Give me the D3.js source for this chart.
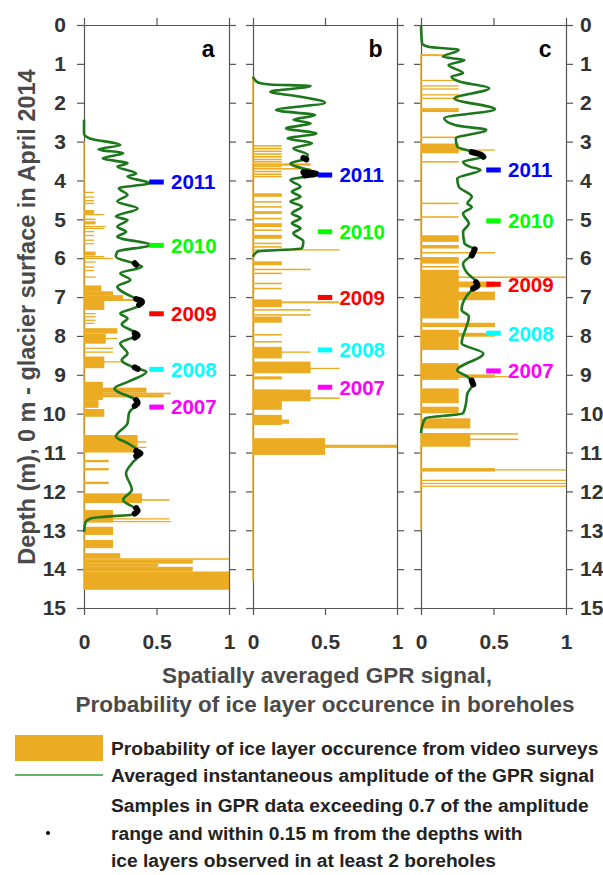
<!DOCTYPE html>
<html>
<head>
<meta charset="utf-8">
<script src="https://cdn.jsdelivr.net/npm/d3@7"></script>
<style>
body { margin: 0; background: #fff; }
svg text { font-family: "Liberation Sans", Arial, Helvetica, sans-serif; font-weight: bold; }
</style>
</head>
<body>
<div id="chart-area"></div>
<script>

// Tick values
var depthTicks = [0, 1, 2, 3, 4, 5, 6, 7, 8, 9, 10, 11, 12, 13, 14, 15];
var valueTicks = [0, 0.5, 1];

// Year markers
var yearLabels = ["2011", "2010", "2009", "2008", "2007"];
var yearColors = ["#0000ff", "#00ff00", "#ff0000", "#00ffff", "#ff00ff"];
var yearDepthA = [4.04, 5.67, 7.43, 8.86, 9.83];
var yearDepthB = [3.86, 5.32, 7.01, 8.36, 9.32];
var yearDepthC = [3.73, 5.04, 6.67, 7.93, 8.90];

// Averaged GPR amplitude: [depth, value]
var gprA = [[2.44,0],[2.80,0],[2.92,0.04],[3.09,0.25],[3.2,0.1],[3.3,0.27],[3.43,0.13],[3.56,0.3],[3.64,0.23],
	[3.82,0.36],[3.9,0.3],[4.07,0.45],[4.2,0.24],[4.37,0.3],[4.54,0.23],[4.72,0.37],[4.93,0.22],[5.02,0.3],
	[5.19,0.23],[5.32,0.29],[5.45,0.23],[5.66,0.46],[5.83,0.23],[5.96,0.22],[6.15,0.36],[6.22,0.4],[6.39,0.25],
	[6.56,0.32],[6.73,0.23],[7.07,0.37],[7.16,0.41],[7.29,0.34],[7.42,0.25],[7.55,0.3],[7.7,0.26],[7.97,0.37],
	[8.19,0.25],[8.45,0.3],[8.62,0.26],[8.83,0.36],[8.92,0.43],[9.17,0.31],[9.35,0.21],[9.7,0.37],[9.99,0.31],
	[10.25,0.3],[10.59,0.22],[10.76,0.3],[11.02,0.39],[11.28,0.33],[11.53,0.29],[11.96,0.33],[12.22,0.27],
	[12.5,0.37],[12.6,0.33],[12.65,0.15],[12.69,0.05],[12.8,0.01],[13.05,0]];
var gprB = [[1.33,0],[1.47,0.03],[1.53,0.12],[1.57,0.40],[1.72,0.12],[1.84,0.32],[2.0,0.5],[2.19,0.16],
	[2.32,0.43],[2.44,0.28],[2.53,0.4],[2.66,0.23],[2.79,0.44],[2.92,0.24],[3.04,0.41],[3.17,0.28],[3.34,0.38],
	[3.45,0.36],[3.56,0.26],[3.83,0.44],[3.99,0.26],[4.16,0.33],[4.29,0.27],[4.42,0.33],[4.54,0.26],[4.67,0.34],
	[4.85,0.27],[4.97,0.33],[5.1,0.27],[5.23,0.33],[5.36,0.28],[5.57,0.35],[5.75,0.34],[5.83,0.03],[5.96,0]];
var gprC = [[0,0],[0.47,0.007],[0.56,0.05],[0.64,0.26],[0.82,0.15],[0.9,0.3],[1.03,0.19],[1.24,0.29],[1.33,0.21],
	[1.46,0.27],[1.63,0.47],[1.89,0.23],[2.17,0.51],[2.4,0.16],[2.58,0.24],[2.7,0.45],[2.92,0.24],[3.13,0.25],
	[3.26,0.35],[3.39,0.43],[3.52,0.29],[3.65,0.34],[3.73,0.41],[3.95,0.25],[4.16,0.26],[4.42,0.35],[4.59,0.32],
	[4.68,0.35],[4.85,0.29],[5.11,0.33],[5.32,0.29],[5.62,0.3],[5.79,0.37],[5.92,0.35],[6.14,0.29],[6.39,0.32],
	[6.65,0.39],[6.78,0.36],[7.0,0.31],[7.33,0.28],[7.5,0.33],[8.19,0.28],[8.45,0.43],[8.88,0.25],[9.05,0.32],
	[9.22,0.36],[9.48,0.32],[9.74,0.31],[9.99,0.29],[10.12,0.03],[10.33,0.007],[10.5,0]];

// Samples exceeding 0.7 of amplitude range (black)
var blackA = [[[6.13,0.35],[6.17,0.36]], [[7.05,0.36],[7.12,0.4],[7.2,0.38]], [[7.93,0.35],[7.98,0.37],[8.04,0.35]],
	[[8.81,0.35],[8.85,0.37]], [[9.65,0.36],[9.72,0.37],[9.8,0.35]], [[10.96,0.36],[11.02,0.39],[11.09,0.36]],
	[[12.43,0.36],[12.5,0.37],[12.57,0.35]]];
var blackB = [[[3.42,0.35],[3.46,0.37]], [[3.79,0.35],[3.83,0.44],[3.87,0.36]]];
var blackC = [[[3.27,0.35],[3.33,0.41],[3.39,0.43]], [[5.77,0.37],[5.86,0.36],[5.93,0.35]],
	[[6.62,0.38],[6.7,0.39],[6.78,0.36]], [[9.15,0.35],[9.25,0.36]]];

// Probability of ice layers from video surveys: [top depth, bottom depth, probability]
var barsA = [[4.29,4.32,0.07],[4.41,4.44,0.07],[4.5,4.53,0.07],[4.57,4.61,0.07],[4.76,4.86,0.07],[4.86,4.89,0.14],
	[4.98,5.02,0.08],[5.05,5.13,0.08],[5.17,5.2,0.15],[5.22,5.25,0.14],[5.3,5.33,0.07],[5.4,5.43,0.07],
	[5.52,5.55,0.07],[5.61,5.64,0.07],[5.83,5.93,0.08],[5.94,5.98,0.14],[5.99,6.02,0.2],[6.08,6.11,0.08],
	[6.21,6.24,0.07],[6.3,6.33,0.07],[6.47,6.5,0.08],[6.7,6.85,0.12],[6.85,6.95,0.2],[6.95,7.05,0.27],
	[7.05,7.1,0.38],[7.1,7.33,0.14],[7.41,7.44,0.08],[7.49,7.52,0.08],[7.58,7.61,0.08],[7.66,7.69,0.07],
	[7.8,7.94,0.23],[7.94,8.2,0.15],[8.05,8.08,0.23],[8.3,8.33,0.2],[8.4,8.43,0.2],[8.53,8.83,0.14],
	[8.65,8.68,0.26],[9.18,9.65,0.13],[9.33,9.46,0.43],[9.46,9.5,0.6],[9.5,9.58,0.55],[9.65,9.85,0.1],
	[9.88,10.08,0.14],[10.55,11.0,0.37],[10.71,10.74,0.43],[10.85,10.88,0.43],[11.19,11.25,0.17],
	[11.4,11.46,0.17],[11.75,11.81,0.17],[12.05,12.3,0.4],[12.2,12.24,0.59],[12.48,12.8,0.2],
	[12.69,12.72,0.59],[12.76,12.79,0.6],[12.91,13.12,0.2],[13.25,13.46,0.2],[13.59,13.72,0.25],
	[13.72,13.76,1.0],[13.76,13.86,0.75],[13.86,13.94,0.51],[13.94,14.06,0.75],[14.06,14.53,1.0]];
var barsB = [[3.09,3.13,0.2],[3.16,3.2,0.2],[3.23,3.27,0.2],[3.3,3.34,0.2],[3.37,3.41,0.2],[3.44,3.48,0.2],
	[3.5,3.54,0.2],[3.56,3.62,0.4],[3.62,3.66,0.2],[3.68,3.72,0.4],[3.75,3.79,0.2],[3.82,3.86,0.2],
	[3.88,3.92,0.2],[4.33,4.42,0.2],[4.53,4.57,0.2],[4.66,4.7,0.2],[4.79,4.86,0.2],[4.96,5.0,0.2],
	[5.1,5.2,0.2],[5.26,5.3,0.2],[5.4,5.5,0.2],[5.6,5.64,0.2],[5.69,5.73,0.2],[5.77,5.8,0.6],
	[6.08,6.18,0.2],[6.27,6.31,0.4],[6.37,6.41,0.2],[6.63,6.67,0.2],[6.76,6.8,0.2],[7.06,7.26,0.2],
	[7.11,7.16,0.6],[7.31,7.35,0.4],[7.44,7.48,0.4],[7.5,7.66,0.2],[7.95,7.99,0.2],[8.13,8.17,0.2],
	[8.28,8.58,0.2],[8.4,8.43,0.4],[8.66,8.96,0.4],[8.82,8.85,0.6],[9.04,9.12,0.2],[9.38,9.9,0.2],
	[9.38,9.68,0.4],[9.58,9.62,0.6],[10.03,10.29,0.2],[10.15,10.26,0.25],[10.63,11.06,0.5],[10.8,10.88,1.0]];
var barsC = [[0.75,0.8,0.17],[1.41,1.44,0.26],[1.55,1.58,0.26],[1.63,1.66,0.26],[1.78,1.81,0.26],[1.87,1.9,0.26],
	[2.14,2.24,0.26],[2.87,2.91,0.26],[3.05,3.3,0.26],[3.2,3.23,0.51],[3.5,3.54,0.26],[4.57,4.61,0.26],
	[4.92,4.96,0.26],[5.41,5.58,0.26],[5.66,5.75,0.26],[5.84,5.88,0.51],[5.97,6.14,0.26],[6.2,6.24,0.26],
	[6.3,7.55,0.26],[6.47,6.51,1.0],[6.6,6.75,0.51],[6.86,7.08,0.51],[7.66,7.77,0.51],[7.84,8.36,0.26],
	[7.92,8.02,0.51],[8.7,9.13,0.26],[8.99,9.08,0.51],[9.03,9.06,0.67],[9.35,9.73,0.26],[9.82,9.99,0.26],
	[10.12,10.38,0.34],[10.5,10.85,0.34],[10.5,10.54,0.67],[10.64,10.68,0.67],[11.4,11.49,0.51],
	[11.43,11.46,1.0],[11.7,11.73,1.0],[11.78,11.81,1.0],[11.85,11.88,1.0]];

// Depth range of the borehole record (zero line)
var iceA = [3.0, 14.53];
var iceB = [1.3, 14.3];
var iceC = [0.75, 13.0];

var orange = "#ebab22";
var green = "#1d771d";

var svg = d3.select("#chart-area").append("svg")
	.attr("width", 603)
	.attr("height", 875);

var y = d3.scaleLinear()
	.domain([0, 15])
	.range([25, 608]);

var panels = [
	{name: "a", left: 84, right: 229, gpr: gprA, black: blackA, bars: barsA, ice: iceA, years: yearDepthA},
	{name: "b", left: 253, right: 397, gpr: gprB, black: blackB, bars: barsB, ice: iceB, years: yearDepthB},
	{name: "c", left: 421, right: 566, gpr: gprC, black: blackC, bars: barsC, ice: iceC, years: yearDepthC}
];

function styleAxis(g, size) {
	g.select(".domain").attr("stroke", "#555").attr("stroke-width", 1.2);
	g.selectAll(".tick line").attr("stroke", "#555").attr("stroke-width", 1.2);
	g.selectAll(".tick text").attr("fill", "#333").style("font-size", size + "px");
}

panels.forEach(function(p, i) {
	var x = d3.scaleLinear()
		.domain([0, 1])
		.range([p.left, p.right]);

	// Box with outward ticks
	var left = svg.append("g")
		.attr("transform", "translate(" + p.left + ",0)")
		.call(d3.axisLeft(y).tickValues(depthTicks).tickSize(7).tickSizeOuter(0).tickPadding(11)
			.tickFormat(i == 0 ? d3.format("d") : ""));
	styleAxis(left, 21);

	var right = svg.append("g")
		.attr("transform", "translate(" + p.right + ",0)")
		.call(d3.axisRight(y).tickValues(depthTicks).tickSize(7).tickSizeOuter(0).tickPadding(7)
			.tickFormat(i == 2 ? d3.format("d") : ""));
	styleAxis(right, 21);

	var top = svg.append("g")
		.attr("transform", "translate(0," + y(0) + ")")
		.call(d3.axisTop(x).tickValues(valueTicks).tickSize(7).tickSizeOuter(0).tickFormat(""));
	styleAxis(top, 21);

	var bottom = svg.append("g")
		.attr("transform", "translate(0," + y(15) + ")")
		.call(d3.axisBottom(x).tickValues(valueTicks).tickSize(7).tickSizeOuter(0).tickPadding(19)
			.tickFormat(d3.format("")));
	styleAxis(bottom, 21);

	// Bars
	svg.append("g").selectAll("rect")
		.data(p.bars)
		.enter().append("rect")
		.attr("x", x(0))
		.attr("y", function(d) { return y(d[0]); })
		.attr("width", function(d) { return x(d[2]) - x(0); })
		.attr("height", function(d) { return Math.max(1.3, y(d[1]) - y(d[0])); })
		.attr("fill", orange);

	svg.append("line")
		.attr("x1", x(0)).attr("x2", x(0))
		.attr("y1", y(p.ice[0])).attr("y2", y(p.ice[1]))
		.attr("stroke", orange)
		.attr("stroke-width", 1.5);

	// GPR line
	var line = d3.line()
		.x(function(d) { return x(d[1]); })
		.y(function(d) { return y(d[0]); })
		.curve(d3.curveMonotoneY);

	svg.append("path")
		.datum(p.gpr)
		.attr("d", line)
		.attr("fill", "none")
		.attr("stroke", green)
		.attr("stroke-width", 2.6);

	p.black.forEach(function(seg) {
		svg.append("path")
			.datum(seg)
			.attr("d", line)
			.attr("fill", "none")
			.attr("stroke", "#000")
			.attr("stroke-width", 6)
			.attr("stroke-linecap", "round");
	});

	// Year markers
	var yr = svg.append("g").selectAll("g")
		.data(p.years)
		.enter().append("g");
	yr.append("rect")
		.attr("x", x(0.45))
		.attr("y", function(d) { return y(d) - 2.5; })
		.attr("width", x(0.55) - x(0.45))
		.attr("height", 5)
		.attr("fill", function(d, j) { return yearColors[j]; });
	yr.append("text")
		.attr("x", x(0.6))
		.attr("y", function(d) { return y(d); })
		.attr("dy", "0.36em")
		.style("font-size", "20.5px")
		.attr("fill", function(d, j) { return yearColors[j]; })
		.text(function(d, j) { return yearLabels[j]; });

	// Panel letter
	svg.append("text")
		.attr("x", x(0.9))
		.attr("y", 57)
		.attr("text-anchor", "end")
		.style("font-size", "23px")
		.attr("fill", "#000")
		.text(p.name);
});

// Axis labels
svg.append("text")
	.attr("transform", "translate(35,317) rotate(-90)")
	.attr("text-anchor", "middle")
	.style("font-size", "23.5px")
	.attr("fill", "#4a4a4a")
	.text("Depth (m), 0 m - glacier surface in April 2014");

svg.append("text")
	.attr("x", 327).attr("y", 683)
	.attr("text-anchor", "middle")
	.style("font-size", "22.5px")
	.attr("fill", "#4a4a4a")
	.text("Spatially averaged GPR signal,");

svg.append("text")
	.attr("x", 325).attr("y", 712)
	.attr("text-anchor", "middle")
	.style("font-size", "22.5px")
	.attr("fill", "#4a4a4a")
	.text("Probability of ice layer occurence in boreholes");

// Legend
var legendLines = [
	"Probability of ice layer occurence from video surveys",
	"Averaged instantaneous amplitude of the GPR signal",
	"Samples in GPR data exceeding 0.7 of the amplitude",
	"range and within 0.15 m from the depths with",
	"ice layers observed in at least 2 boreholes"
];
var legendY = [755, 782, 812, 840, 867];

svg.append("rect")
	.attr("x", 15).attr("y", 735)
	.attr("width", 88).attr("height", 26)
	.attr("fill", orange);
svg.append("line")
	.attr("x1", 15).attr("x2", 103)
	.attr("y1", 775).attr("y2", 775)
	.attr("stroke", "#2e9a2e")
	.attr("stroke-width", 1.5);
svg.append("circle")
	.attr("cx", 48).attr("cy", 833)
	.attr("r", 2)
	.attr("fill", "#000");

svg.selectAll(".legend-text")
	.data(legendLines)
	.enter().append("text")
	.attr("class", "legend-text")
	.attr("x", 111)
	.attr("y", function(d, i) { return legendY[i]; })
	.style("font-size", "19.2px")
	.attr("fill", "#222")
	.text(function(d) { return d; });

</script>
</body>
</html>
